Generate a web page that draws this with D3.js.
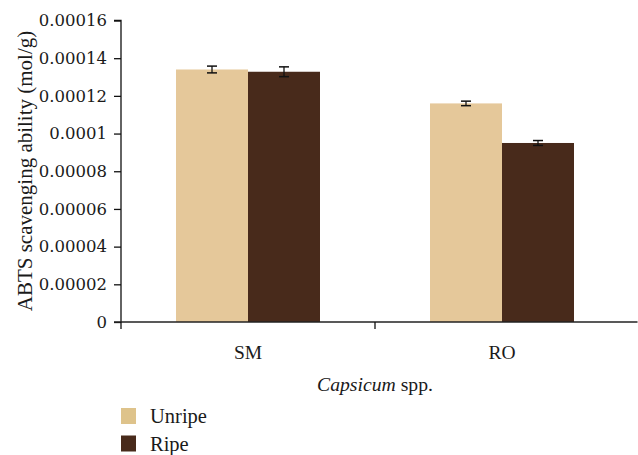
<!DOCTYPE html>
<html><head><meta charset="utf-8">
<script src="https://cdn.jsdelivr.net/npm/d3@7"></script>
<style>body{margin:0;background:#fff}svg{display:block}text{font-family:"Liberation Serif","DejaVu Serif",serif;fill:#1a1a1a}</style>
</head><body><svg id="c" width="638" height="455"></svg>
<script>
const categories = ["SM", "RO"];
const seriesNames = ["Unripe", "Ripe"];
const unripe = [0.0001340, 0.0001160];
const ripe = [0.0001328, 0.0000950];
const unripeErr = [0.0000018, 0.0000012];
const ripeErr = [0.0000026, 0.0000013];
const yTicks = [0, 0.00002, 0.00004, 0.00006, 0.00008, 0.0001, 0.00012, 0.00014, 0.00016];
const yTickLabels = ["0", "0.00002", "0.00004", "0.00006", "0.00008", "0.0001", "0.00012", "0.00014", "0.00016"];
const colors = ["#E5C89A", "#482A1B"];

const svg = d3.select("#c");
const mLeft = 121, mRight = 629, mTop = 20.5, mBottom = 322;
const y = d3.scaleLinear().domain([0, 0.00016]).range([mBottom, mTop]);
const x0 = d3.scaleBand().domain(categories).range([mLeft, mRight]).padding(0);
const x1 = d3.scaleBand().domain(seriesNames).range([0, x0.bandwidth()]).paddingInner(0).paddingOuter(0.764);

const rows = categories.map((c, i) => ({cat: c, vals: [
  {s: "Unripe", v: unripe[i], e: unripeErr[i], col: colors[0]},
  {s: "Ripe", v: ripe[i], e: ripeErr[i], col: colors[1]}]}));

const g = svg.selectAll("g.grp").data(rows).join("g").attr("class", "grp").attr("transform", d => `translate(${x0(d.cat)},0)`);
g.selectAll("rect").data(d => d.vals).join("rect")
  .attr("x", d => x1(d.s)).attr("width", x1.bandwidth())
  .attr("y", d => y(d.v)).attr("height", d => y(0) - y(d.v)).attr("fill", d => d.col);

const eb = g.selectAll("g.eb").data(d => d.vals).join("g").attr("class", "eb");
const cx = d => x1(d.s) + x1.bandwidth() / 2;
eb.append("line").attr("x1", cx).attr("x2", cx)
  .attr("y1", d => y(d.v + d.e)).attr("y2", d => y(d.v - d.e)).attr("stroke", "#111").attr("stroke-width", 1.3);
eb.append("line").attr("x1", d => cx(d) - 5).attr("x2", d => cx(d) + 5)
  .attr("y1", d => y(d.v + d.e)).attr("y2", d => y(d.v + d.e)).attr("stroke", "#111").attr("stroke-width", 1.5);
eb.append("line").attr("x1", d => cx(d) - 5).attr("x2", d => cx(d) + 5)
  .attr("y1", d => y(d.v - d.e)).attr("y2", d => y(d.v - d.e)).attr("stroke", "#111").attr("stroke-width", 1.5);

// y axis
const yAxis = d3.axisLeft(y).tickValues(yTicks).tickSize(7).tickPadding(7)
  .tickFormat((d, i) => yTickLabels[i]);
const ya = svg.append("g").attr("transform", `translate(${mLeft},0)`).call(yAxis);
ya.select(".domain").attr("stroke", "#111").attr("stroke-width", 1.3).attr("d", `M-7,${mTop}H0V${mBottom}`);
ya.selectAll(".tick line").attr("stroke", "#111").attr("stroke-width", 1.3);
ya.selectAll(".tick text").style("font-size", "16.5px").style("font-family", "DejaVu Serif").attr("fill", "#1a1a1a");

// x axis
const xa = svg.append("g").attr("transform", `translate(0,${mBottom})`);
xa.append("line").attr("x1", mLeft - 7).attr("x2", 637.5).attr("y1", 0).attr("y2", 0).attr("stroke", "#222").attr("stroke-width", 1.6);
const bounds = [mLeft, ...categories.slice(1).map(c => x0(c))];
xa.selectAll("line.tk").data(bounds).join("line").attr("class", "tk")
  .attr("x1", d => d).attr("x2", d => d).attr("y1", 0).attr("y2", 7).attr("stroke", "#111").attr("stroke-width", 1.3);
xa.selectAll("text.cl").data(categories).join("text").attr("class", "cl")
  .attr("x", d => x0(d) + x0.bandwidth() / 2).attr("y", 36.5).attr("text-anchor", "middle")
  .style("font-size", "19.5px").text(d => d);

// axis titles
const xt = svg.append("text").attr("x", (mLeft + mRight) / 2).attr("y", 390.5).attr("text-anchor", "middle").style("font-size", "19.7px");
xt.append("tspan").style("font-style", "italic").text("Capsicum");
xt.append("tspan").text(" spp.");
svg.append("text").attr("transform", "translate(31.5,171) rotate(-90)").attr("text-anchor", "middle")
  .style("font-size", "21px").text("ABTS scavenging ability (mol/g)");

// legend
const lg = svg.selectAll("g.lg").data(seriesNames).join("g").attr("class", "lg")
  .attr("transform", (d, i) => `translate(121,${408 + i * 27.5})`);
lg.append("rect").attr("width", 15).attr("height", 16).attr("fill", (d, i) => i === 0 ? "#DEC38B" : colors[1]);
lg.append("text").attr("x", 29).attr("y", 15).style("font-size", "20.5px").text(d => d);
</script></body></html>
